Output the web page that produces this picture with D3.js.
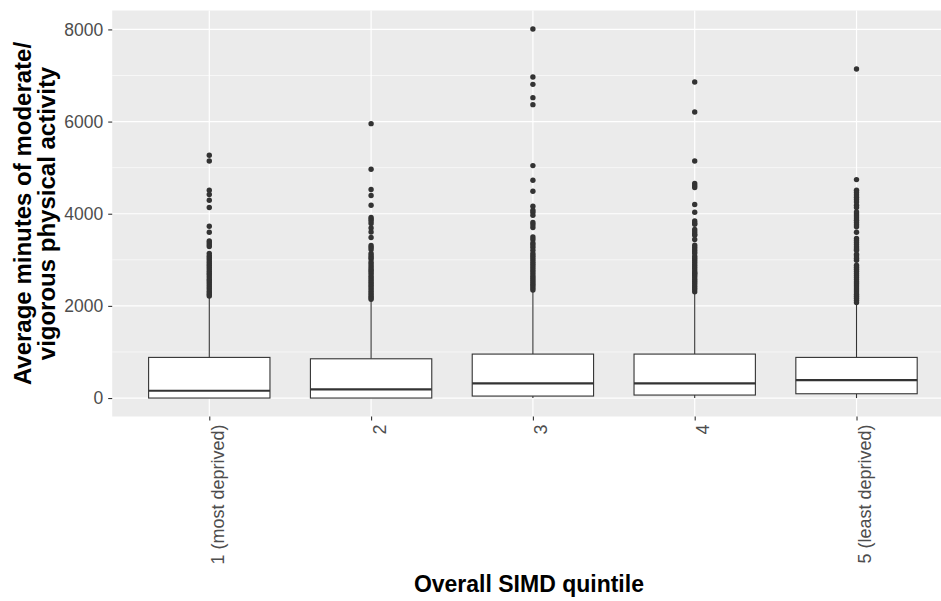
<!DOCTYPE html>
<html>
<head>
<meta charset="utf-8">
<script src="https://cdn.jsdelivr.net/npm/d3@7"></script>
<style>
  html, body { margin: 0; padding: 0; background: #ffffff; }
  svg { display: block; }
</style>
</head>
<body>
<div id="chart"></div>
<script>
// Boxplot summaries per SIMD quintile (minutes of moderate/vigorous activity)
const categories = ["1 (most deprived)", "2", "3", "4", "5 (least deprived)"];
const whiskerLow = [0, 0, 0, 0, 0];
const q1 = [0, 0, 43, 65, 93];
const medians = [158, 189, 319, 319, 390];
const q3 = [882, 852, 954, 954, 882];
const whiskerHigh = [2190, 2110, 2300, 2270, 2050];

// Outlying observations above the upper whisker
const outliers1 = [5268, 5144, 4509, 4416, 4293, 4134, 3729, 3599, 3410, 3370, 3330, 3290,
  3137, 3090, 3050, 3010, 2965, 2920, 2880, 2840, 2795, 2750, 2710, 2670, 2625, 2580,
  2540, 2500, 2460, 2415, 2375, 2330, 2290, 2250, 2215];
const outliers2 = [5955, 4965, 4525, 4395, 4184, 3918, 3880, 3840, 3787, 3692, 3605, 3484,
  3310, 3270, 3224, 3137, 3095, 3050, 3020, 2955, 2910, 2860, 2812, 2775, 2735, 2695,
  2650, 2610, 2570, 2530, 2490, 2450, 2410, 2370, 2330, 2290, 2250, 2210, 2175, 2145];
const outliers3 = [8010, 6966, 6808, 6519, 6367, 5045, 4726, 4488, 4163, 4076, 4030, 3967,
  3809, 3760, 3701, 3497, 3440, 3367, 3320, 3270, 3209, 3137, 3095, 3050, 3005, 2960,
  2915, 2870, 2825, 2780, 2735, 2690, 2645, 2600, 2555, 2515, 2470, 2430, 2390, 2345];
const outliers4 = [6858, 6207, 5145, 4655, 4610, 4568, 4199, 4033, 3844, 3800, 3772, 3657,
  3610, 3560, 3534, 3440, 3317, 3270, 3225, 3180, 3137, 3079, 3035, 2990, 2945, 2900,
  2855, 2810, 2765, 2720, 2703, 2667, 2625, 2580, 2535, 2490, 2445, 2400, 2355, 2305];
const outliers5 = [7140, 4741, 4509, 4460, 4410, 4360, 4310, 4256, 4184, 4134, 4040, 3995,
  3950, 3905, 3860, 3810, 3760, 3715, 3599, 3462, 3420, 3375, 3330, 3285, 3240, 3209,
  3120, 3080, 3035, 2992, 2883, 2840, 2795, 2750, 2705, 2660, 2615, 2570, 2525, 2480,
  2435, 2390, 2345, 2300, 2255, 2210, 2165, 2120, 2075];

const yTicks = [0, 2000, 4000, 6000, 8000];
const yMinor = [1000, 3000, 5000, 7000];

const xTitle = "Overall SIMD quintile";
const yTitleLines = ["Average minutes of moderate/", "vigorous physical activity"];

const outlierSets = [outliers1, outliers2, outliers3, outliers4, outliers5];
const boxes = categories.map((c, i) => ({
  cat: c, lo: whiskerLow[i], q1: q1[i], med: medians[i], q3: q3[i], hi: whiskerHigh[i],
  out: outlierSets[i]
}));

const W = 941, H = 601;
const panel = { left: 112.2, right: 953.6, top: 10.5, bottom: 416.5 };
const font = "Liberation Sans, Arial, sans-serif";

const svg = d3.select("#chart").append("svg")
  .attr("width", W).attr("height", H);

// Discrete x positions with 0.6 expansion on each side
const x = d3.scalePoint().domain(categories)
  .range([panel.left, panel.right]).padding(0.6);
const step = x.step();
const boxW = step * 0.75;

// Continuous y with 5% expansion of the data range
const allVals = boxes.flatMap(b => [b.lo, b.hi, ...b.out]);
const yMin = d3.min(allVals), yMax = d3.max(allVals);
const pad = (yMax - yMin) * 0.05;
const y = d3.scaleLinear().domain([yMin - pad, yMax + pad])
  .range([panel.bottom, panel.top]);

// Panel background
svg.append("rect")
  .attr("x", panel.left).attr("y", panel.top)
  .attr("width", panel.right - panel.left).attr("height", panel.bottom - panel.top)
  .attr("fill", "#ebebeb");

// Grid lines
const grid = svg.append("g");
grid.selectAll(".minor").data(yMinor).join("line")
  .attr("x1", panel.left).attr("x2", panel.right)
  .attr("y1", d => y(d)).attr("y2", d => y(d))
  .attr("stroke", "#ffffff").attr("stroke-width", 0.6);
grid.selectAll(".majorY").data(yTicks).join("line")
  .attr("x1", panel.left).attr("x2", panel.right)
  .attr("y1", d => y(d)).attr("y2", d => y(d))
  .attr("stroke", "#ffffff").attr("stroke-width", 1.2);
grid.selectAll(".majorX").data(categories).join("line")
  .attr("x1", d => x(d)).attr("x2", d => x(d))
  .attr("y1", panel.top).attr("y2", panel.bottom)
  .attr("stroke", "#ffffff").attr("stroke-width", 1.2);

// Boxplots
const ink = "#333333";
const g = svg.append("g");
const bx = g.selectAll("g.box").data(boxes).join("g").attr("class", "box");

bx.append("line") // upper whisker
  .attr("x1", d => x(d.cat)).attr("x2", d => x(d.cat))
  .attr("y1", d => y(d.q3)).attr("y2", d => y(d.hi))
  .attr("stroke", ink).attr("stroke-width", 1.1);
bx.append("line") // lower whisker
  .attr("x1", d => x(d.cat)).attr("x2", d => x(d.cat))
  .attr("y1", d => y(d.q1)).attr("y2", d => y(d.lo))
  .attr("stroke", ink).attr("stroke-width", 1.1);
bx.append("rect")
  .attr("x", d => x(d.cat) - boxW / 2).attr("width", boxW)
  .attr("y", d => y(d.q3)).attr("height", d => y(d.q1) - y(d.q3))
  .attr("fill", "#ffffff").attr("stroke", ink).attr("stroke-width", 1.1);
bx.append("line") // median
  .attr("x1", d => x(d.cat) - boxW / 2).attr("x2", d => x(d.cat) + boxW / 2)
  .attr("y1", d => y(d.med)).attr("y2", d => y(d.med))
  .attr("stroke", ink).attr("stroke-width", 2.2);
bx.selectAll("circle").data(d => d.out.map(v => ({ cat: d.cat, v }))).join("circle")
  .attr("cx", d => x(d.cat)).attr("cy", d => y(d.v)).attr("r", 2.7)
  .attr("fill", ink);

// Y axis
const yAxis = svg.append("g")
  .attr("transform", `translate(${panel.left},0)`)
  .call(d3.axisLeft(y).tickValues(yTicks).tickSize(4).tickPadding(5).tickFormat(d3.format("d")));
yAxis.select(".domain").remove();
yAxis.selectAll(".tick line").attr("stroke", ink).attr("stroke-width", 1.1);
yAxis.selectAll(".tick text")
  .attr("fill", "#4d4d4d").style("font-family", font)
  .style("font-size", "17.5px");

// X axis with vertical labels
const xAxis = svg.append("g")
  .attr("transform", `translate(0,${panel.bottom})`)
  .call(d3.axisBottom(x).tickSize(4).tickPadding(0));
xAxis.select(".domain").remove();
xAxis.selectAll(".tick line").attr("stroke", ink).attr("stroke-width", 1.1);
xAxis.selectAll(".tick text")
  .attr("fill", "#4d4d4d").style("font-family", font)
  .style("font-size", "18px")
  .attr("text-anchor", "end")
  .attr("dy", null).attr("y", null)
  .attr("transform", "translate(14,8) rotate(-90)");

// Axis titles
svg.append("text")
  .attr("x", (panel.left + panel.right) / 2 - 4).attr("y", 592)
  .attr("text-anchor", "middle")
  .style("font-family", font)
  .style("font-size", "23px").style("font-weight", "bold")
  .attr("fill", "#000000").text(xTitle);

const yt = svg.append("text")
  .attr("transform", `translate(31,${(panel.top + panel.bottom) / 2}) rotate(-90)`)
  .attr("text-anchor", "middle")
  .style("font-family", font)
  .style("font-size", "24px").style("font-weight", "bold")
  .attr("fill", "#000000");
yt.selectAll("tspan").data(yTitleLines).join("tspan")
  .attr("x", 0).attr("dy", (d, i) => i === 0 ? 0 : 24).text(d => d);
</script>
</body>
</html>
